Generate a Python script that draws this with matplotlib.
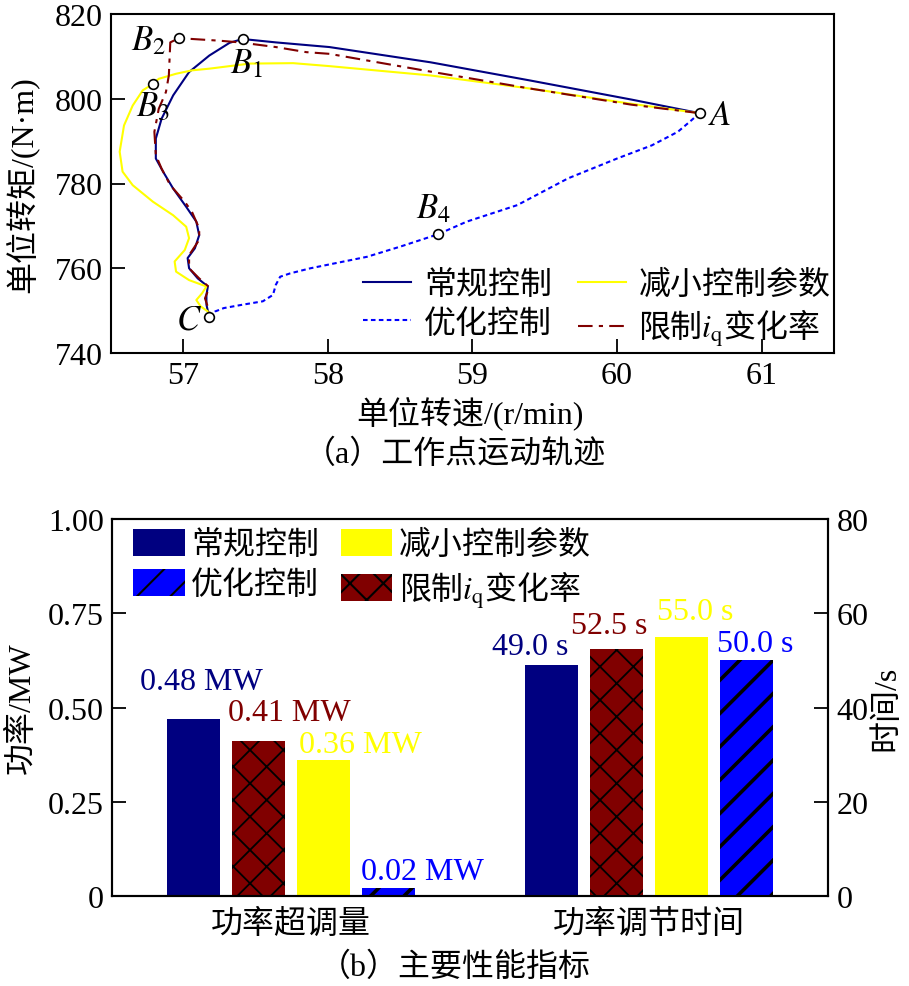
import numpy as np
import matplotlib
matplotlib.use("Agg")
import matplotlib.pyplot as plt

plt.rcParams['font.family'] = ['Liberation Serif', 'Noto Sans CJK SC']
plt.rcParams['mathtext.fontset'] = 'stix'
plt.rcParams['font.size'] = 23
plt.rcParams['hatch.linewidth'] = 1.5
plt.rcParams['hatch.color'] = 'black'

# ---- (a) operating point trajectories ----
conv_x = [60.57, 60.10, 59.40, 58.71, 58.01, 57.64, 57.41, 57.32, 57.18, 57.04, 56.93, 56.85,
          56.81, 56.81, 56.86, 56.93, 57.02, 57.09, 57.11, 57.08, 57.03, 57.04, 57.10, 57.17,
          57.16, 57.16, 57.18]
conv_y = [796.6, 799.8, 804.3, 808.6, 812.2, 813.3, 814.1, 813.2, 810.2, 806.3, 800.8, 795.3,
          790.6, 785.9, 782.8, 778.8, 774.5, 771.0, 767.8, 764.7, 762.4, 760.0, 757.6, 755.7,
          753.7, 751.4, 748.4]

lim_x = [60.57, 60.10, 59.40, 58.71, 58.01, 57.85, 57.64, 57.39, 57.25, 56.97, 56.91, 56.90,
         56.88, 56.83, 56.80, 56.81, 56.85, 56.91, 57.01, 57.06, 57.11, 57.11, 57.04, 57.04,
         57.11, 57.18, 57.15, 57.18, 57.18]
lim_y = [796.6, 798.6, 802.4, 806.4, 810.6, 811.0, 812.2, 813.3, 813.7, 814.3, 813.3, 805.5,
         801.6, 797.6, 792.2, 786.7, 783.5, 779.6, 775.7, 773.3, 769.4, 766.7, 763.1, 760.0,
         757.6, 755.5, 752.9, 749.8, 748.4]

red_x = [60.57, 60.10, 59.40, 58.71, 58.01, 57.76, 57.46, 57.18, 57.06, 56.95, 56.83, 56.79,
         56.72, 56.65, 56.59, 56.56, 56.58, 56.65, 56.79, 56.93, 57.02, 57.04, 57.01, 56.94,
         56.95, 57.04, 57.16, 57.13, 57.09, 57.12, 57.17, 57.18]
red_y = [796.6, 798.8, 802.4, 805.5, 807.7, 808.4, 808.3, 807.1, 806.7, 805.9, 804.7, 803.5,
         802.0, 798.4, 793.7, 787.5, 782.8, 779.6, 775.7, 772.5, 769.8, 767.1, 764.3, 761.6,
         759.2, 757.2, 755.7, 754.1, 752.5, 751.0, 749.8, 748.4]

opt_x = [57.18, 57.22, 57.28, 57.41, 57.55, 57.62, 57.64, 57.67, 57.74, 57.88, 58.27, 58.50,
         58.76, 58.96, 59.31, 59.66, 60.00, 60.24, 60.42, 60.51, 60.57]
opt_y = [748.4, 749.8, 750.6, 751.4, 752.2, 753.7, 756.1, 758.0, 758.8, 760.0, 762.7, 765.1,
         768.0, 771.0, 774.9, 781.2, 785.9, 789.0, 792.2, 794.8, 796.6]

pt_names = ['$A$', '$B_1$', '$B_2$', '$B_3$', '$B_4$', '$C$']
pt_x = [60.57, 57.41, 56.97, 56.79, 58.76, 57.18]
pt_y = [796.6, 814.1, 814.3, 803.5, 768.0, 748.4]
lbl_x = [60.63, 57.44, 56.76, 56.79, 58.73, 57.04]
lbl_y = [796.0, 808.2, 813.6, 798.1, 774.1, 747.8]

# ---- (b) performance indices ----
groups = ['功率超调量', '功率调节时间']
names = ['常规控制', '限制$i_\\mathrm{q}$变化率', '减小控制参数', '优化控制']
colors = ['#000080', '#800000', '#FFFF00', '#0000FF']
hatches = ['', 'x', '', '/']
hatch_lw = [1.5, 1.3, 1.5, 2.6]
overshoot = [0.47, 0.41, 0.36, 0.02]
overshoot_txt = ['0.48 MW', '0.41 MW', '0.36 MW', '0.02 MW']
settle = [49.0, 52.5, 55.0, 50.0]
settle_txt = ['49.0 s', '52.5 s', '55.0 s', '50.0 s']

fig = plt.figure(figsize=(9.09, 9.87), dpi=100)
W, H = 909, 987

ax = fig.add_axes([111 / W, 1 - 354 / H, (834 - 111) / W, (354 - 15) / H])
l1, = ax.plot(conv_x, conv_y, color='#000080', lw=1.5)
l3, = ax.plot(red_x, red_y, color='#FFFF00', lw=1.5)
l4, = ax.plot(lim_x, lim_y, color='#800000', lw=1.5, dashes=(7, 3, 2, 3))
l2, = ax.plot(opt_x, opt_y, color='#0000FF', lw=1.5, dashes=(2.2, 1.6))
ax.plot(pt_x, pt_y, 'o', ms=7, mfc='white', mec='black', mew=1.2, zorder=5)
for s, x, y in zip(pt_names, lbl_x, lbl_y):
    ha = 'left' if s == '$A$' else 'center'
    ax.text(x, y, s, fontsize=25, ha=ha, va='center')
ax.set_xlim(56.5, 61.5)
ax.set_ylim(740, 820)
ax.set_xticks([57, 58, 59, 60, 61])
ax.set_yticks([740, 760, 780, 800, 820])
ax.tick_params(direction='in', length=10, width=1.3, pad=6)
for sp in ax.spines.values():
    sp.set_linewidth(1.5)
ax.legend([l1, l2, l3, l4], ['常规控制', '优化控制', '减小控制参数', '限制$i_\\mathrm{q}$变化率'],
          ncol=2, loc='lower right', bbox_to_anchor=(0.995, 0.015), frameon=False,
          handlelength=1.5, handletextpad=0.4, columnspacing=0.8, labelspacing=0.2,
          borderpad=0, borderaxespad=0, prop={'family': 'Noto Sans CJK SC', 'size': 23})
fig.text(470 / W, 1 - 413 / H, '单位转速/(r/min)', ha='center', va='center')
fig.text(22 / W, 1 - 185 / H, '单位转矩/(N·m)', ha='center', va='center', rotation=90)
fig.text(455 / W, 1 - 455 / H, '（a）工作点运动轨迹', ha='center', va='center')

# bottom panel
axb = fig.add_axes([112 / W, 1 - 897 / H, (828 - 112) / W, (897 - 520) / H])
axb2 = axb.twinx()
step = 0.181
offs = [(-1.5 + i) * step for i in range(4)]
bars = []
for i in range(4):
    with plt.rc_context({'hatch.linewidth': hatch_lw[i]}):
        b = axb.bar(0 + offs[i], overshoot[i], width=0.148, color=colors[i], hatch=hatches[i],
                    edgecolor='black', linewidth=0)
        axb2.bar(1 + offs[i], settle[i], width=0.148, color=colors[i], hatch=hatches[i],
                 edgecolor='black', linewidth=0)
    bars.append(b)

ov_dx = [0.02, 0.086, 0.103, 0.095]
ov_dy = [0.098, 0.078, 0.043, 0.046]
st_dx = [-0.06, -0.022, 0.039, 0.025]
st_dy = [4.05, 4.8, 5.3, 3.5]
for i in range(4):
    axb.text(0 + offs[i] + ov_dx[i], overshoot[i] + ov_dy[i], overshoot_txt[i],
             color=colors[i], ha='center', va='center')
    axb2.text(1 + offs[i] + st_dx[i], settle[i] + st_dy[i], settle_txt[i],
              color=colors[i], ha='center', va='center')

axb.set_xlim(-0.5, 1.5)
axb.set_ylim(0, 1.0)
axb2.set_ylim(0, 80)
axb.set_xticks([0, 1])
axb.set_xticklabels(groups)
axb.set_yticks([0, 0.25, 0.5, 0.75, 1.0])
axb.set_yticklabels(['0', '0.25', '0.50', '0.75', '1.00'])
axb2.set_yticks([0, 20, 40, 60, 80])
axb.tick_params(axis='y', direction='in', length=10, width=1.3, pad=6)
axb.tick_params(axis='x', length=0, pad=9)
axb2.tick_params(axis='y', direction='in', length=10, width=1.3, pad=6)
for sp in list(axb.spines.values()) + list(axb2.spines.values()):
    sp.set_linewidth(1.5)
h = [bars[0], bars[3], bars[2], bars[1]]
lab = [names[0], names[3], names[2], names[1]]
axb.legend(h, lab, ncol=2, loc='upper left', bbox_to_anchor=(0.03, 0.975), frameon=False,
           handlelength=1.6, handleheight=0.95, handletextpad=0.2, columnspacing=0.7,
           labelspacing=0.25, borderpad=0, borderaxespad=0,
           prop={'family': 'Noto Sans CJK SC', 'size': 23})
fig.text(22 / W, 1 - 708 / H, '功率/MW', ha='center', va='center', rotation=90)
fig.text(887 / W, 1 - 708 / H, '时间/s', ha='center', va='center', rotation=90)
fig.text(455 / W, 1 - 968 / H, '（b）主要性能指标', ha='center', va='center')

fig.savefig('out.png', dpi=100)
